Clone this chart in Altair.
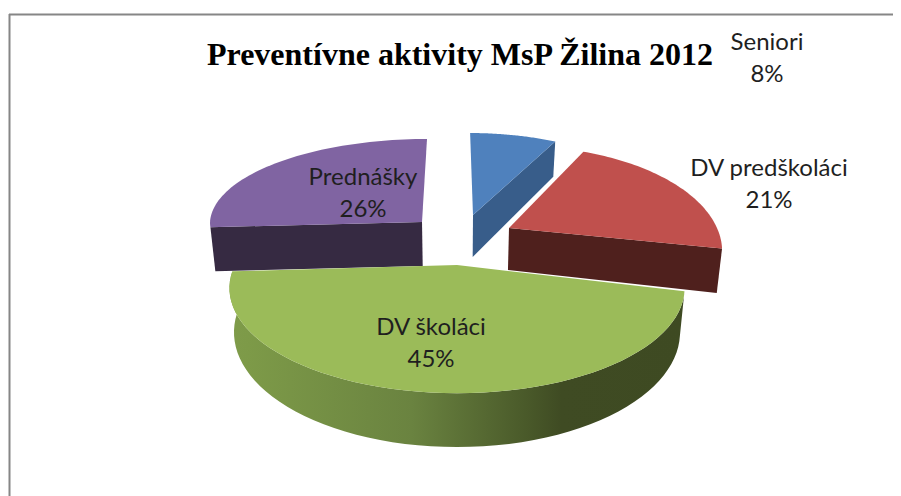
import math
import altair as alt

# values
names = ["Seniori", "DV predškoláci", "DV školáci", "Prednášky"]
shares = [8, 21, 45, 26]
title_text = "Preventívne aktivity MsP Žilina 2012"

# styles
top_colors = ["#4F81BD", "#C0504D", "#9BBB59", "#8064A2"]
wall_colors = ["#385D8A", "#4F201D", "#6A8340", "#362A42"]
green_stops = [(0.0, "#7F9B4A"), (0.04, "#7D9A48"), (0.40, "#6A8340"), (0.65, "#4A5A2A"), (0.73, "#3F4B23"), (1.0, "#3E4A22")]

# layout of the tilted, exploded pie (page pixels)
W, H = 885, 488
OX, OY = 8, 8
CX = 457
SHRINK = 0.98
persp = [0.22, 0.22, 0.22, 0.0]
rad_y = [100, 100, 100, 83]
depth = [42, 42, 42, 44]
apex_x = [473, 509, 457, 422]
apex_y = [215, 228, 265, 222]
rad_x = [210, 205, 222, 212]
tilt = [0, -6, 0, 0]
skew = [0, 0, 0, 5]
label_x = [767, 769, 431, 363]
label_y = [50, 176, 335, 185]
LINE = 32


def project(i, theta, low=False):
    u, v = math.sin(theta), -math.cos(theta)
    s = 1 / (1 - persp[i] * v)
    x = (apex_x[i] - CX + rad_x[i] * u) * s + skew[i] * max(-v, 0)
    y = apex_y[i] + rad_y[i] * v * s + tilt[i] * u
    if low:
        x *= SHRINK
        y += depth[i] * s
    return [CX + x - OX, y - OY]


def project_apex(i, low=False):
    x = apex_x[i] - CX
    y = apex_y[i]
    if low:
        x *= SHRINK
        y += depth[i]
    return [CX + x - OX, y - OY]


def feature(ring, color, order):
    ring = ring + [ring[0]]
    return {"type": "Feature", "geometry": {"type": "Polygon", "coordinates": [ring]},
            "properties": {"color": color, "order": order}}


def sweep(i, a, b, low=False, n=60):
    return [project(i, a + (b - a) * t / n, low) for t in range(n + 1)]


total = sum(shares)
starts = []
acc = 0
for sh in shares:
    starts.append(acc / total * 2 * math.pi)
    acc += sh
ends = [starts[i] + shares[i] / total * 2 * math.pi for i in range(4)]

proj = alt.Projection(type="identity", scale=1, translate=[0, 0])


def geo(features, **mark):
    data = alt.InlineData(values={"type": "FeatureCollection", "features": features},
                          format=alt.DataFormat(property="features", type="json"))
    return alt.Chart(data).mark_geoshape(strokeWidth=0, **mark).project(**proj.to_dict())


def solid(features):
    return geo(features).encode(fill=alt.Color("properties.color:N", scale=None, legend=None))


layers = []
for i, cut in ((0, ends[0]), (3, starts[3]), (1, ends[1])):
    wall = [project_apex(i), project(i, cut), project(i, cut, True), project_apex(i, True)]
    layers.append(solid([feature(wall, wall_colors[i], 0)]))
    top = [project_apex(i)] + sweep(i, starts[i], ends[i])
    layers.append(solid([feature(top, top_colors[i], 1)]))

# green: outer rim with a shaded gradient, then the top
g = 2
rim = sweep(g, starts[g], ends[g]) + sweep(g, ends[g], starts[g], True)
layers.append(geo([feature(rim, wall_colors[g], 0)], fill={
    "gradient": "linear", "x1": 0, "x2": 1, "y1": 0, "y2": 0,
    "stops": [{"offset": o, "color": c} for o, c in green_stops]}))
top = [project_apex(g)] + sweep(g, starts[g], ends[g])
layers.append(solid([feature(top, top_colors[g], 1)]))

# frame
frame_left = alt.Chart(alt.Data(values=[{"a": 0}])).mark_rule(color="#868686", strokeWidth=2).encode(
    x=alt.value(9 - OX + 0.5), y=alt.value(14 - OY), y2=alt.value(H))
frame_top = alt.Chart(alt.Data(values=[{"a": 0}])).mark_rule(color="#868686", strokeWidth=2).encode(
    y=alt.value(14 - OY + 0.5), x=alt.value(9 - OX), x2=alt.value(W))
layers += [frame_left, frame_top]

# labels
rows = []
for i in range(4):
    rows.append({"t": names[i], "x": label_x[i] - OX, "y": label_y[i] - OY})
    rows.append({"t": f"{shares[i]}%", "x": label_x[i] - OX, "y": label_y[i] + LINE - OY})
labels = alt.Chart(alt.Data(values=rows)).mark_text(
    font="Lato", fontSize=24, color="#1F1F1F", baseline="alphabetic", align="center"
).encode(x=alt.X("x:Q", scale=None), y=alt.Y("y:Q", scale=None), text="t:N")
title = alt.Chart(alt.Data(values=[{"t": title_text, "x": 460 - OX, "y": 65 - OY}])).mark_text(
    font="Liberation Serif", fontWeight="bold", fontSize=32, color="#000000", baseline="alphabetic", align="center"
).encode(x=alt.X("x:Q", scale=None), y=alt.Y("y:Q", scale=None), text="t:N")
layers += [labels, title]

chart = alt.layer(*layers).properties(
    width=W, height=H, padding=0, autosize=alt.AutoSizeParams(type="none"), background="white"
).configure_view(stroke=None).configure_axis(disable=True)
chart.save("out.html", embed_options={"renderer": "svg", "actions": False})
